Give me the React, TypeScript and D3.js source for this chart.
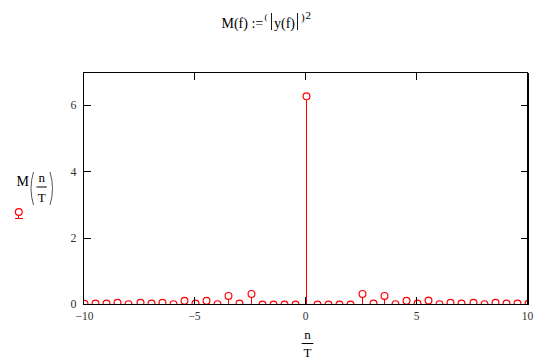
import React from "react";
import * as d3 from "d3";

const freqs = [
  -10, -9.5, -9, -8.5, -8, -7.5, -7, -6.5, -6, -5.5, -5, -4.5, -4, -3.5, -3, -2.5, -2, -1.5, -1, -0.5,
  0, 0.5, 1, 1.5, 2, 2.5, 3, 3.5, 4, 4.5, 5, 5.5, 6, 6.5, 7, 7.5, 8, 8.5, 9, 9.5, 10,
];
const magnitudes = [
  0.02, 0.03, 0.03, 0.05, 0.01, 0.05, 0.03, 0.05, 0.01, 0.11, 0.03, 0.11, 0.01, 0.26, 0.03, 0.32, 0, 0, 0, 0,
  6.28, 0, 0, 0, 0, 0.32, 0.03, 0.26, 0.01, 0.11, 0.03, 0.12, 0.01, 0.05, 0.03, 0.05, 0.01, 0.05, 0.03, 0.03, 0.02,
];
const xTicks = [-10, -5, 0, 5, 10];
const yTicks = [0, 2, 4, 6];
const xDomain = [-10, 10];
const yDomain = [0, 7];

const W = 550;
const H = 361;
const L = 83.5;
const R = 527.5;
const T = 72.5;
const B = 304.5;
const RED = "#ff0000";
const SERIF = "'Liberation Serif', 'Times New Roman', serif";

const px = (v: number) => Math.round(v - 0.5) + 0.5;

export default function App() {
  const x = d3.scaleLinear().domain(xDomain).range([L, R]);
  const y = d3.scaleLinear().domain(yDomain).range([B, T]);
  const r = 3.4;
  const fmt = (v: number) => (v < 0 ? "\u2212" + Math.abs(v) : String(v));
  return (
    <svg width={W} height={H} style={{ position: "absolute", left: 0, top: 0, background: "#fff" }}>
      <defs>
        <clipPath id="plotclip">
          <rect x={L} y={T - 1} width={R - L} height={B - T + 1} />
        </clipPath>
      </defs>
      {/* title */}
      <g fontFamily={SERIF} fill="#000">
        <text x={221.5} y={27.5} fontSize={14}>M(f) :=</text>
        <text x={264.5} y={20} fontSize={9}>(</text>
        <line x1={271.5} x2={271.5} y1={13} y2={30} stroke="#000" strokeWidth={0.9} />
        <text x={274} y={27.5} fontSize={14}>y(f)</text>
        <line x1={297.5} x2={297.5} y1={13} y2={30} stroke="#000" strokeWidth={0.9} />
        <text x={301} y={21} fontSize={11}>)</text>
        <text x={305.5} y={18.5} fontSize={11}>2</text>
      </g>

      {/* data */}
      <g clipPath="url(#plotclip)">
        {freqs.map((f, i) => {
          const cx = px(x(f) + 1);
          const cy = y(magnitudes[i]);
          return (
            <g key={i}>
              {cy + r < B && (
                <line x1={cx} x2={cx} y1={B} y2={cy + r} stroke={RED} strokeWidth={1} shapeRendering="crispEdges" />
              )}
              <circle cx={cx} cy={cy} r={r} fill="none" stroke={RED} strokeWidth={1.2} />
            </g>
          );
        })}
      </g>

      {/* frame */}
      <g shapeRendering="crispEdges">
        <rect x={L} y={T} width={R - L} height={B - T} fill="none" stroke="#000" strokeWidth={1} />
        <line x1={R} x2={R} y1={T} y2={B} stroke="#000" strokeWidth={2} />
      </g>

      {/* ticks */}
      <g stroke="#000" strokeWidth={1} shapeRendering="crispEdges">
        {xTicks.slice(1, -1).map((t) => (
          <g key={"xt" + t}>
            <line x1={px(x(t))} x2={px(x(t))} y1={B} y2={B - 8} />
            <line x1={px(x(t))} x2={px(x(t))} y1={T} y2={T + 7} />
          </g>
        ))}
        {yTicks.slice(1).map((t) => (
          <g key={"yt" + t}>
            <line x1={L} x2={L + 7} y1={px(y(t))} y2={px(y(t))} />
            <line x1={R} x2={R - 7} y1={px(y(t))} y2={px(y(t))} />
          </g>
        ))}
      </g>

      {/* tick labels */}
      <g fontFamily={SERIF} fill="#333">
        {xTicks.map((t) => (
          <text key={"xl" + t} x={x(t) + (t === -10 ? 1 : 0)} y={319.5} fontSize={11.5} textAnchor="middle">
            {fmt(t)}
          </text>
        ))}
        {yTicks.map((t) => (
          <text key={"yl" + t} x={76.5} y={y(t) + 3.8} fontSize={12} textAnchor="end">
            {fmt(t)}
          </text>
        ))}
      </g>

      {/* y axis label */}
      <g fontFamily={SERIF} fill="#000">
        <text x={16.5} y={185.5} fontSize={14}>M</text>
        <path d="M33.5,172 Q28.5,188.5 33.5,205" fill="none" stroke="#444" strokeWidth={0.9} />
        <path d="M50,172 Q55,188.5 50,205" fill="none" stroke="#444" strokeWidth={0.9} />
        <text x={41.7} y={182} fontSize={13} textAnchor="middle">n</text>
        <line x1={36.5} x2={46.8} y1={187} y2={187} stroke="#000" strokeWidth={1} />
        <text x={41.7} y={201.5} fontSize={13} textAnchor="middle">T</text>
      </g>

      {/* legend marker */}
      <g stroke={RED} strokeWidth={1.2} fill="none">
        <circle cx={18.8} cy={212} r={3.4} />
        <line x1={18.5} x2={18.5} y1={215.4} y2={218.5} shapeRendering="crispEdges" />
        <line x1={15} x2={22.6} y1={218.5} y2={218.5} shapeRendering="crispEdges" />
      </g>

      {/* x axis label */}
      <g fontFamily={SERIF} fill="#000">
        <text x={307.5} y={338.5} fontSize={13} textAnchor="middle">n</text>
        <line x1={301.7} x2={313.3} y1={343.5} y2={343.5} stroke="#000" strokeWidth={1} />
        <text x={307.5} y={357} fontSize={13} textAnchor="middle">T</text>
      </g>
    </svg>
  );
}
